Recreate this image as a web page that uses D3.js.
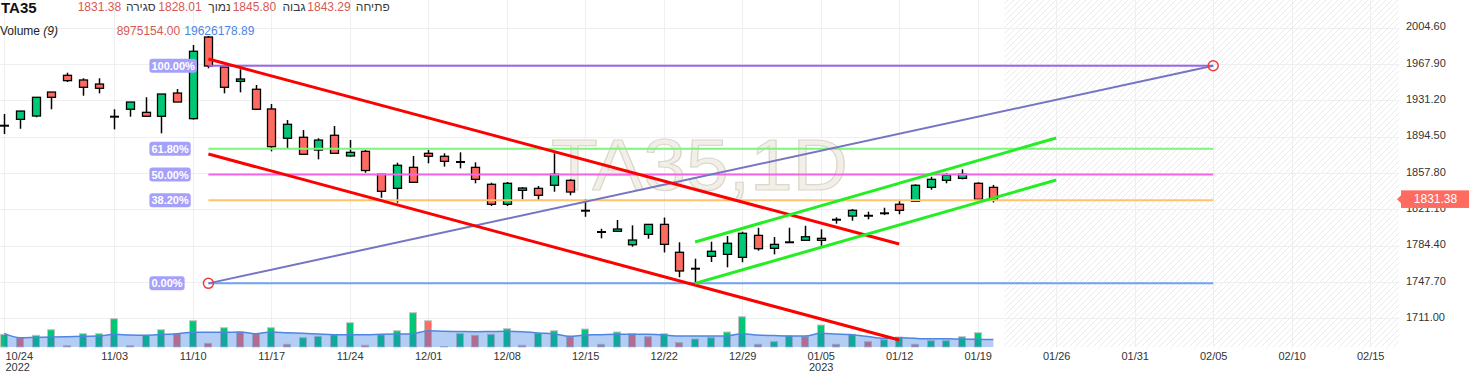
<!DOCTYPE html>
<html><head><meta charset="utf-8">
<script src="https://cdn.jsdelivr.net/npm/d3@7"></script>
<style>
body{margin:0;background:#fff;}
svg{display:block;font-family:"Liberation Sans",Arial,"DejaVu Sans",sans-serif;}
</style>
</head><body>
<svg id="chart" width="1469" height="374"></svg>
<script>
// ---------------- DATA ----------------
const dates = ["10/24","10/25","10/26","10/27","10/30","10/31","11/02","11/03","11/06","11/07","11/08","11/09","11/10",
"11/13","11/14","11/15","11/16","11/17","11/20","11/21","11/22","11/23","11/24","11/27","11/28","11/29","11/30","12/01",
"12/04","12/05","12/06","12/07","12/08","12/11","12/12","12/13","12/14","12/15","12/18","12/19","12/20","12/21","12/22",
"12/25","12/26","12/27","12/28","12/29","01/01","01/02","01/03","01/04","01/05","01/08","01/09","01/10","01/11","01/12",
"01/15","01/16","01/17","01/18","01/19","01/22"];
const openP  = [1905.6,1912.0,1915.4,1939.6,1956.5,1951.8,1947.7,1914.7,1922.2,1919.1,1915.1,1938.6,1912.7,
1995.2,1964.9,1950.4,1942.4,1922.5,1892.9,1893.9,1881.0,1895.9,1875.0,1879.7,1856.5,1842.3,1863.5,1877.7,
1874.7,1868.9,1863.5,1846.4,1826.2,1840.3,1842.3,1845.4,1850.4,1819.7,1798.2,1798.9,1785.3,1795.8,1805.9,
1777.7,1761.1,1773.6,1775.6,1772.6,1794.8,1781.7,1787.8,1789.8,1791.8,1810.6,1814.3,1814.6,1817.1,1826.2,
1829.2,1843.3,1850.4,1852.4,1847.4,1843.29];
const highP  = [1917.4,1920.4,1934.3,1939.6,1959.1,1953.5,1953.5,1922.2,1929.5,1934.3,1937.6,1942.7,1987.1,
1996.2,1964.9,1962.6,1946.7,1927.5,1911.3,1901.2,1892.9,1905.3,1891.1,1881.0,1856.5,1868.2,1875.0,1881.0,
1877.7,1878.7,1868.6,1848.0,1848.7,1843.5,1844.7,1877.7,1851.4,1831.5,1801.5,1810.3,1804.9,1805.9,1812.8,
1787.8,1771.2,1788.4,1794.1,1798.5,1802.5,1793.1,1802.5,1804.5,1800.9,1813.0,1821.4,1818.7,1822.7,1829.5,
1846.4,1854.0,1857.5,1861.5,1848.4,1845.80];
const lowP   = [1897.2,1902.5,1914.1,1922.2,1949.7,1935.9,1938.3,1901.9,1914.7,1914.6,1897.9,1929.5,1911.8,
1963.6,1938.3,1939.3,1921.4,1879.7,1882.3,1876.0,1871.6,1877.0,1874.5,1858.1,1832.8,1827.8,1848.0,1867.6,
1864.2,1862.5,1847.4,1824.4,1824.4,1831.2,1830.5,1838.9,1835.3,1813.6,1791.8,1798.5,1783.3,1791.4,1777.5,
1752.4,1746.3,1767.9,1762.5,1767.6,1779.3,1775.6,1787.4,1789.5,1784.3,1806.6,1809.6,1811.0,1815.3,1816.1,
1829.0,1840.9,1847.4,1851.4,1830.8,1828.01];
const closeP = [1905.6,1920.4,1934.3,1934.3,1951.1,1944.4,1943.4,1914.7,1929.5,1915.1,1937.6,1929.5,1980.8,
1965.9,1944.4,1952.8,1922.2,1884.4,1907.0,1876.7,1891.1,1877.7,1878.7,1860.3,1839.3,1865.6,1848.4,1874.7,
1869.6,1868.9,1851.4,1826.2,1847.4,1842.6,1835.3,1856.5,1838.6,1819.7,1798.2,1801.2,1790.1,1805.9,1785.7,
1758.8,1761.1,1778.7,1786.8,1796.9,1781.3,1785.7,1787.8,1793.4,1789.8,1810.6,1820.1,1814.6,1817.1,1820.1,
1845.4,1851.4,1855.5,1856.5,1831.2,1831.38];
// volume in millions of units
const volume = [27.0,22.2,25.6,33.5,10.8,27.9,27.9,49.2,10.8,25.6,33.5,27.9,46.3,
14.2,36.4,30.3,27.9,36.4,12.8,22.2,24.2,26.4,43.5,11.4,26.4,32.1,57.7,46.3,
9.5,27.9,25.6,27.0,35.0,11.4,28.4,32.1,23.6,34.5,12.8,30.3,27.9,23.6,27.9,
15.1,20.3,22.2,30.3,52.0,12.8,16.5,25.0,23.6,40.2,12.8,27.0,16.5,19.3,23.2,
12.8,17.9,17.9,23.6,29.3,8.975154];
const volumeUp = [1,0,1,1,0,1,1,1,0,1,1,0,1,
0,1,0,0,1,0,1,1,1,1,0,1,1,1,0,
0,1,0,1,1,0,1,1,0,1,0,1,0,0,1,
0,1,1,1,1,0,1,1,0,1,0,1,0,1,1,
0,1,1,1,1,0];
const volumeMA = [28.4,22.2,22.7,23.2,23.6,24.2,24.6,27.0,26.0,25.6,26.7,27.9,29.9,
29.9,29.9,30.3,27.9,30.3,29.3,28.4,27.4,26.4,26.4,26.4,27.0,27.4,27.9,32.1,
31.3,31.0,30.7,31.0,31.3,30.7,28.9,27.9,24.2,26.0,26.4,27.0,27.0,27.0,26.0,
24.6,24.6,24.6,24.6,27.9,26.0,25.3,24.6,24.6,28.4,27.4,26.4,23.9,21.3,22.2,
21.3,20.8,20.8,20.3,19.9,19.62617889];
const xTickIndex  = [0,7,12,17,22,27,32,37,42,47,52,57,62,67,72,77,82,87];
const xTickLabels = ["10/24","11/03","11/10","11/17","11/24","12/01","12/08","12/15","12/22","12/29","01/05","01/12","01/19","01/26","01/31","02/05","02/10","02/15"];
const xTickYears  = ["2022","","","","","","","","","","2023","","","","","","",""];
const yTicks = [1711.00,1747.70,1784.40,1821.10,1857.80,1894.50,1931.20,1967.90,2004.60];
const fibRatios = [1, 0.618, 0.5, 0.382, 0];
const fibLabels = ["100.00%","61.80%","50.00%","38.20%","0.00%"];
const fibColors = ["#9d66ee","#7df57d","#f266e6","#ffc36b","#6ea2f5"];
const fibLowPoint  = {i:13, p:1746.3};
const fibHighPoint = {i:77, p:1966.2};
const redLines   = [[13,1973.0,57,1786.0],[13,1877.0,57,1689.0]];
const greenLines = [[44,1788.1,67,1893.2],[44,1746.3,67,1850.7]];
const symbol = "TA35";
const watermark = "TA35,1D";
const hdrWords = ["סגירה","נמוך","גבוה","פתיחה"];

// ---------------- LAYOUT ----------------
const W = 1469, H = 374;
const plotRight = 1399, plotBottom = 347;
const svg = d3.select("#chart");
const x = d3.scaleLinear().domain([0, 87]).range([4.3, 1370.2]);
const y = d3.scaleLinear().domain([1682.0, 2032.6]).range([plotBottom, 0]);
const yVol = d3.scaleLinear().domain([d3.min(volume), d3.max(volume)]).range([plotBottom, plotBottom - 34.3]);
const GREEN = "#00c876", RED = "#ff6b61";

// hatch pattern for future area
const defs = svg.append("defs");
const pat = defs.append("pattern").attr("id","hatch").attr("patternUnits","userSpaceOnUse")
  .attr("width",6).attr("height",6);
pat.append("path").attr("d","M-1,1 l2,-2 M0,6 l6,-6 M5,7 l2,-2").attr("stroke","#ebebeb").attr("stroke-width",1);
const lastI = openP.length - 1;
svg.append("rect").attr("x", x(lastI + 0.7)).attr("y",0)
  .attr("width", plotRight - x(lastI + 0.7)).attr("height", plotBottom).attr("fill","url(#hatch)");

// grid
const grid = svg.append("g");
grid.selectAll(".hg").data(yTicks).join("line")
  .attr("x1",0).attr("x2",plotRight)
  .attr("y1",d=>Math.round(y(d))+0.5).attr("y2",d=>Math.round(y(d))+0.5)
  .attr("stroke","#efefef").attr("stroke-width",1);
grid.selectAll(".vg").data(xTickIndex).join("line")
  .attr("x1",d=>Math.round(x(d))+0.5).attr("x2",d=>Math.round(x(d))+0.5)
  .attr("y1",0).attr("y2",plotBottom)
  .attr("stroke","#efefef").attr("stroke-width",1);

// watermark
svg.append("text").attr("x", plotRight/2).attr("y", 190)
  .attr("text-anchor","middle").attr("font-size",72)
  .attr("textLength",297).attr("lengthAdjust","spacingAndGlyphs")
  .attr("fill","#f2efe8").attr("stroke","#dcd7ca").attr("stroke-width",1.2)
  .text(watermark);

// volume bars
const vb = svg.append("g");
vb.selectAll("rect").data(volume).join("rect")
  .attr("x",(d,i)=>Math.round(x(i))-3.5).attr("width",7)
  .attr("y",d=>yVol(d)).attr("height",d=>plotBottom - yVol(d))
  .attr("fill",(d,i)=>volumeUp[i] ? GREEN : RED)
  .attr("stroke","#c4c4c4").attr("stroke-width",1);

// volume MA area
const area = d3.area().x((d,i)=>x(i)).y0(plotBottom).y1(d=>yVol(d)).curve(d3.curveMonotoneX);
const line = d3.line().x((d,i)=>x(i)).y(d=>yVol(d)).curve(d3.curveMonotoneX);
svg.append("path").datum(volumeMA).attr("d",area).attr("fill","rgba(41,112,226,0.35)");
svg.append("path").datum(volumeMA).attr("d",line).attr("fill","none").attr("stroke","#4f86e0").attr("stroke-width",1.5);

// candles
const candles = openP.map((o,i)=>({i,o,h:highP[i],l:lowP[i],c:closeP[i]}));
const cg = svg.append("g");
cg.selectAll(".wick").data(candles).join("line")
  .attr("x1",d=>Math.round(x(d.i))+0.5).attr("x2",d=>Math.round(x(d.i))+0.5)
  .attr("y1",d=>y(d.h)).attr("y2",d=>y(d.l))
  .attr("stroke","#000").attr("stroke-width",1.5);
cg.selectAll(".body").data(candles.filter(d=>d.o!==d.c)).join("rect")
  .attr("x",d=>Math.round(x(d.i))-3.5).attr("width",8)
  .attr("y",d=>y(Math.max(d.o,d.c))).attr("height",d=>Math.max(1,Math.abs(y(d.o)-y(d.c))))
  .attr("fill",d=>d.c>d.o?GREEN:RED).attr("stroke","#000").attr("stroke-width",1.3);
cg.selectAll(".doji").data(candles.filter(d=>d.o===d.c)).join("line")
  .attr("x1",d=>Math.round(x(d.i))-4).attr("x2",d=>Math.round(x(d.i))+5)
  .attr("y1",d=>y(d.o)).attr("y2",d=>y(d.o))
  .attr("stroke","#000").attr("stroke-width",2);

// fibonacci
const fg = svg.append("g");
const fibRange = fibHighPoint.p - fibLowPoint.p;
const fibData = fibRatios.map((r,k)=>({r, v: fibLowPoint.p + r*fibRange, label: fibLabels[k], color: fibColors[k]}));
fg.selectAll(".fl").data(fibData).join("line")
  .attr("x1",x(fibLowPoint.i)).attr("x2",x(fibHighPoint.i))
  .attr("y1",d=>y(d.v)).attr("y2",d=>y(d.v))
  .attr("stroke",d=>d.color).attr("stroke-width",2);
fg.append("line")
  .attr("x1",x(fibLowPoint.i)).attr("y1",y(fibLowPoint.p))
  .attr("x2",x(fibHighPoint.i)).attr("y2",y(fibHighPoint.p))
  .attr("stroke","#7575c4").attr("stroke-width",2);

// trend lines
const tg = svg.append("g");
tg.selectAll(".rl").data(redLines).join("line")
  .attr("x1",d=>x(d[0])).attr("y1",d=>y(d[1])).attr("x2",d=>x(d[2])).attr("y2",d=>y(d[3]))
  .attr("stroke","#ff0000").attr("stroke-width",3);
tg.selectAll(".gl").data(greenLines).join("line")
  .attr("x1",d=>x(d[0])).attr("y1",d=>y(d[1])).attr("x2",d=>x(d[2])).attr("y2",d=>y(d[3]))
  .attr("stroke","#22ee22").attr("stroke-width",3);

// fib endpoint circles
fg.selectAll("circle").data([fibLowPoint, fibHighPoint]).join("circle")
  .attr("cx",d=>x(d.i)).attr("cy",d=>y(d.p)).attr("r",5)
  .attr("fill","none").attr("stroke","#f03c3c").attr("stroke-width",1.5);

// fib labels
const lblX = x(fibLowPoint.i) - 59;
const lg = fg.selectAll(".lbl").data(fibData).join("g");
lg.each(function(d){
  const g = d3.select(this);
  const t = g.append("text").attr("x",lblX+2).attr("y",y(d.v)+4)
    .attr("font-size",11).attr("font-weight","bold").attr("fill","#fff").text(d.label);
  const w = t.node().getComputedTextLength();
  g.insert("rect","text").attr("x",lblX).attr("y",y(d.v)-7).attr("width",w+4).attr("height",14)
    .attr("rx",3).attr("fill","#a5a1fb");
});

// y axis
const yAxis = d3.axisRight(y).tickValues(yTicks).tickFormat(d3.format(".2f")).tickSize(0).tickPadding(0);
const ya = svg.append("g").attr("transform","translate(1406,0)").call(yAxis);
ya.select(".domain").remove();
ya.selectAll("text").attr("font-size",11).attr("fill","#333").attr("y",-1.5)
  .attr("font-family","'Liberation Sans',Arial,sans-serif");

// x axis
const xAxis = d3.axisBottom(x).tickValues(xTickIndex).tickFormat((d,k)=>xTickLabels[k]).tickSize(0).tickPadding(0);
const xa = svg.append("g").attr("transform",`translate(0,${plotBottom})`).call(xAxis);
xa.select(".domain").remove();
xa.selectAll("text").attr("font-size",11).attr("fill","#333").attr("dy",null).attr("y",13)
  .attr("font-family","'Liberation Sans',Arial,sans-serif");
xa.selectAll(".tick").each(function(d,k){
  const t = d3.select(this).select("text");
  if (k===0) t.attr("text-anchor","start").attr("x", 5 - x(d));
  if (xTickYears[k]) {
    d3.select(this).append("text").attr("font-size",11).attr("fill","#333")
      .attr("font-family","'Liberation Sans',Arial,sans-serif")
      .attr("text-anchor", k===0 ? "start" : "middle").attr("x", k===0 ? 5 - x(d) : 0)
      .attr("y",24).text(xTickYears[k]);
  }
});

// current price label
const cy = y(closeP[lastI]);
const pl = svg.append("g");
pl.append("path").attr("d",`M1397,${cy} L1401,${cy-4} L1401,${cy+4} Z`).attr("fill",RED);
pl.append("rect").attr("x",1401).attr("y",cy-8.8).attr("width",W-1401).attr("height",17.6).attr("fill",RED);
pl.append("text").attr("x",1435.5).attr("y",cy+4.3).attr("text-anchor","middle")
  .attr("font-size",12).attr("fill","#fff").text(closeP[lastI].toFixed(2));

// header
const hd = svg.append("g");
hd.append("text").attr("x",1).attr("y",13).attr("font-size",15).attr("font-weight","bold").attr("fill","#111").text(symbol);
const hdrRed = "#d65a55", hdrGray = "#3a3a3a";
const hdrNums = [
  {x:77.7, t:closeP[lastI].toFixed(2)},
  {x:158.3, t:lowP[lastI].toFixed(2)},
  {x:232.7, t:highP[lastI].toFixed(2)},
  {x:307.3, t:openP[lastI].toFixed(2)}
];
hd.selectAll(".hn").data(hdrNums).join("text")
  .attr("x",d=>d.x).attr("y",10.5).attr("font-size",12).attr("fill",hdrRed).text(d=>d.t);
const hdrWordCenters = [140.8, 219.5, 294, 372.8];
hd.selectAll(".hw").data(hdrWords).join("text")
  .attr("x",(d,k)=>hdrWordCenters[k]).attr("y",10.5).attr("text-anchor","middle")
  .attr("font-size",12).attr("fill",hdrGray).text(d=>d);
const vt = hd.append("text").attr("x",0).attr("y",34.5).attr("font-size",12).attr("fill","#222");
vt.append("tspan").text("Volume ");
vt.append("tspan").attr("font-style","italic").text("(9)");
hd.append("text").attr("x",116.7).attr("y",34.5).attr("font-size",12).attr("fill",hdrRed)
  .text((volume[lastI]*1e6).toFixed(2));
hd.append("text").attr("x",184.3).attr("y",34.5).attr("font-size",12).attr("fill","#4a86e8")
  .text((volumeMA[lastI]*1e6).toFixed(2));
</script>
</body></html>
